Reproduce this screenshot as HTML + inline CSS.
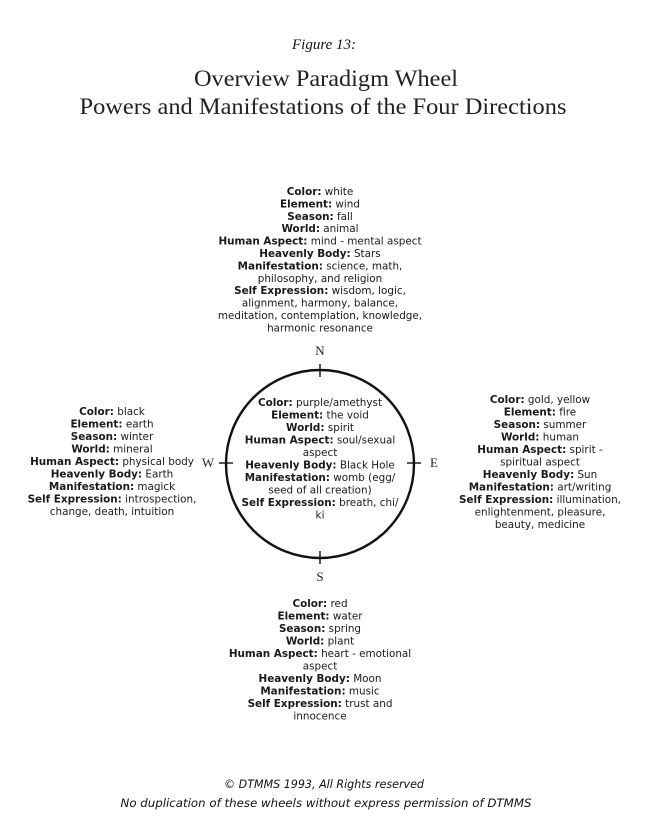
<!DOCTYPE html>
<html><head><meta charset="utf-8"><style>
html,body{margin:0;padding:0;background:#fff;}
svg{display:block}
.t{font-family:"DejaVu Sans","Liberation Sans",sans-serif;font-size:10.4px;fill:#1a1a1a;text-anchor:middle}
.t tspan.b{font-weight:bold}
</style></head><body>
<svg width="652" height="820" viewBox="0 0 652 820" xmlns="http://www.w3.org/2000/svg">
<text x="324" y="49" font-family="Liberation Serif,serif" font-style="italic" font-size="15" text-anchor="middle" fill="#111">Figure 13:</text>
<text x="326" y="86" font-family="Liberation Serif,serif" font-size="23" text-anchor="middle" fill="#222" textLength="264" lengthAdjust="spacingAndGlyphs">Overview Paradigm Wheel</text>
<text x="323" y="114" font-family="Liberation Serif,serif" font-size="23" text-anchor="middle" fill="#222" textLength="487" lengthAdjust="spacingAndGlyphs">Powers and Manifestations of the Four Directions</text>

<g class="t">
<text x="320" y="195"><tspan class="b">Color:</tspan> white</text>
<text x="320" y="207.4"><tspan class="b">Element:</tspan> wind</text>
<text x="320" y="219.8"><tspan class="b">Season:</tspan> fall</text>
<text x="320" y="232.2"><tspan class="b">World:</tspan> animal</text>
<text x="320" y="244.6"><tspan class="b">Human Aspect:</tspan> mind - mental aspect</text>
<text x="320" y="257"><tspan class="b">Heavenly Body:</tspan> Stars</text>
<text x="320" y="269.4"><tspan class="b">Manifestation:</tspan> science, math,</text>
<text x="320" y="281.8">philosophy, and religion</text>
<text x="320" y="294.2"><tspan class="b">Self Expression:</tspan> wisdom, logic,</text>
<text x="320" y="306.6">alignment, harmony, balance,</text>
<text x="320" y="319">meditation, contemplation, knowledge,</text>
<text x="320" y="331.4">harmonic resonance</text>

<text x="112" y="415"><tspan class="b">Color:</tspan> black</text>
<text x="112" y="427.5"><tspan class="b">Element:</tspan> earth</text>
<text x="112" y="440"><tspan class="b">Season:</tspan> winter</text>
<text x="112" y="452.5"><tspan class="b">World:</tspan> mineral</text>
<text x="112" y="465"><tspan class="b">Human Aspect:</tspan> physical body</text>
<text x="112" y="477.5"><tspan class="b">Heavenly Body:</tspan> Earth</text>
<text x="112" y="490"><tspan class="b">Manifestation:</tspan> magick</text>
<text x="112" y="502.5"><tspan class="b">Self Expression:</tspan> introspection,</text>
<text x="112" y="515">change, death, intuition</text>

<text x="540" y="403"><tspan class="b">Color:</tspan> gold, yellow</text>
<text x="540" y="415.5"><tspan class="b">Element:</tspan> fire</text>
<text x="540" y="428"><tspan class="b">Season:</tspan> summer</text>
<text x="540" y="440.5"><tspan class="b">World:</tspan> human</text>
<text x="540" y="453"><tspan class="b">Human Aspect:</tspan> spirit -</text>
<text x="540" y="465.5">spiritual aspect</text>
<text x="540" y="478"><tspan class="b">Heavenly Body:</tspan> Sun</text>
<text x="540" y="490.5"><tspan class="b">Manifestation:</tspan> art/writing</text>
<text x="540" y="503"><tspan class="b">Self Expression:</tspan> illumination,</text>
<text x="540" y="515.5">enlightenment, pleasure,</text>
<text x="540" y="528">beauty, medicine</text>

<text x="320" y="607"><tspan class="b">Color:</tspan> red</text>
<text x="320" y="619.5"><tspan class="b">Element:</tspan> water</text>
<text x="320" y="632"><tspan class="b">Season:</tspan> spring</text>
<text x="320" y="644.5"><tspan class="b">World:</tspan> plant</text>
<text x="320" y="657"><tspan class="b">Human Aspect:</tspan> heart - emotional</text>
<text x="320" y="669.5">aspect</text>
<text x="320" y="682"><tspan class="b">Heavenly Body:</tspan> Moon</text>
<text x="320" y="694.5"><tspan class="b">Manifestation:</tspan> music</text>
<text x="320" y="707"><tspan class="b">Self Expression:</tspan> trust and</text>
<text x="320" y="719.5">innocence</text>

<text x="320" y="406"><tspan class="b">Color:</tspan> purple/amethyst</text>
<text x="320" y="418.5"><tspan class="b">Element:</tspan> the void</text>
<text x="320" y="431"><tspan class="b">World:</tspan> spirit</text>
<text x="320" y="443.5"><tspan class="b">Human Aspect:</tspan> soul/sexual</text>
<text x="320" y="456">aspect</text>
<text x="320" y="468.5"><tspan class="b">Heavenly Body:</tspan> Black Hole</text>
<text x="320" y="481"><tspan class="b">Manifestation:</tspan> womb (egg/</text>
<text x="320" y="493.5">seed of all creation)</text>
<text x="320" y="506"><tspan class="b">Self Expression:</tspan> breath, chi/</text>
<text x="320" y="518.5">ki</text>
</g>

<circle cx="320" cy="464" r="94" fill="none" stroke="#111" stroke-width="2.4"/>
<g stroke="#111" stroke-width="1.4">
<line x1="320" y1="364" x2="320" y2="377"/>
<line x1="320" y1="551" x2="320" y2="564"/>
<line x1="219" y1="463" x2="233" y2="463"/>
<line x1="407" y1="463" x2="421" y2="463"/>
</g>
<g font-family="Liberation Serif,serif" font-size="13" fill="#222" text-anchor="middle">
<text x="320" y="355">N</text>
<text x="320" y="581">S</text>
<text x="208" y="467">W</text>
<text x="434" y="467">E</text>
</g>

<text x="324" y="788" font-family="DejaVu Sans,sans-serif" font-style="italic" font-size="11.5" text-anchor="middle" fill="#111" textLength="200" lengthAdjust="spacingAndGlyphs">© DTMMS 1993, All Rights reserved</text>
<text x="326" y="807" font-family="DejaVu Sans,sans-serif" font-style="italic" font-size="11.5" text-anchor="middle" fill="#111" textLength="411" lengthAdjust="spacingAndGlyphs">No duplication of these wheels without express permission of DTMMS</text>
</svg>
</body></html>
